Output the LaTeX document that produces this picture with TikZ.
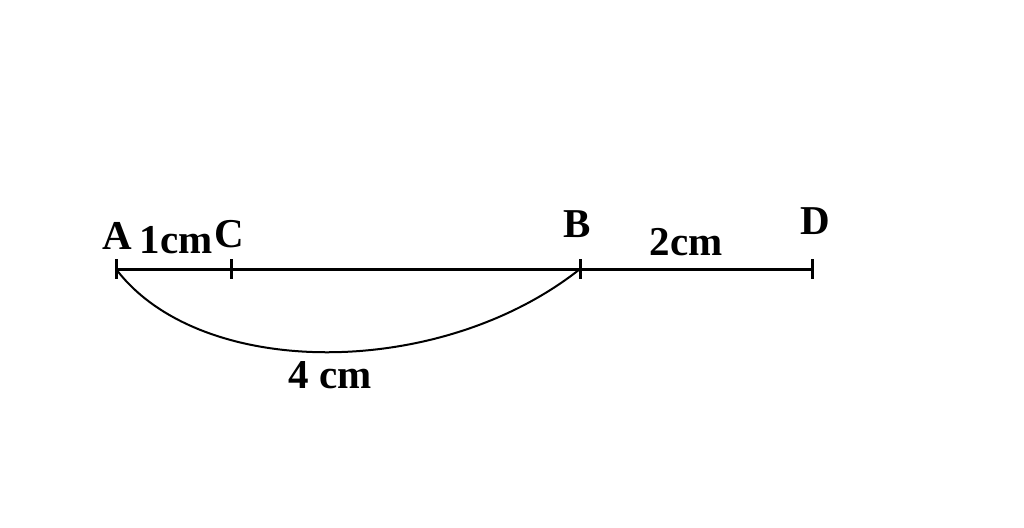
\documentclass[tikz,border=0pt]{standalone}
\usepackage{fontspec}
\setmainfont{Liberation Serif}
\usetikzlibrary{positioning}
\tikzset{
  seg/.style={line width=1.5pt},
  tick/.style={line width=1.5pt},
  lbl/.style={anchor=base,inner sep=0pt,font=\fontsize{20.5}{24}\selectfont\bfseries},
}

\begin{document}
\begin{tikzpicture}[x=0.5pt,y=-0.5pt]
			\useasboundingbox (0,0) rectangle (1024,527);
			\coordinate (A) at (116,269);
			\coordinate (C) at (231,269);
			\coordinate (B) at (580,269);
			\coordinate (D) at (812,269);
			\draw[seg] (A) -- (D);
			\foreach \p in {A,C,B,D}
				\draw[tick] ([yshift=5pt]\p) -- ([yshift=-5pt]\p);
			\draw[line width=1pt] (A) .. controls (200,380) and (440,380) .. (B);
			\node[lbl] (la) at (117,249) {A};
			\node[lbl] (lac) at (176,253) {1cm};
			\node[lbl] (lc) at (229.5,247) {C};
			\node[lbl] (lb) at (577.5,237) {B};
			\node[lbl] (lbd) at (686,255) {2cm};
			\node[lbl] (ld) at (815,234) {D};
			\node[lbl] (lab) at (330,388) {4 cm};
		\end{tikzpicture}
\end{document}
